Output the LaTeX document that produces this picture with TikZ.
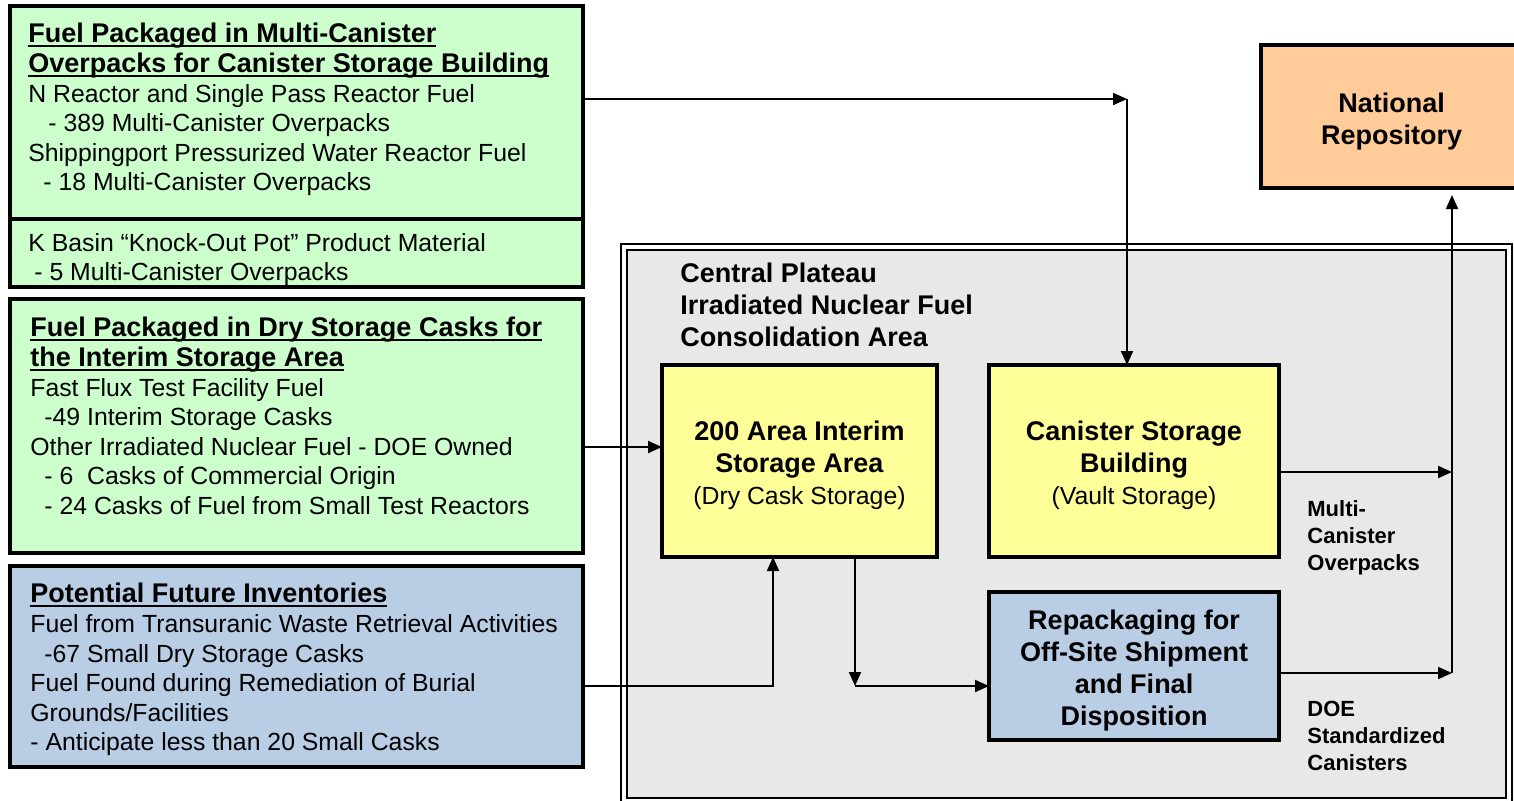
\documentclass[tikz,border=0pt]{standalone}
\usepackage{fontspec}
\setmainfont{Liberation Sans}
\usetikzlibrary{arrows.meta,positioning}

\definecolor{mcogreen}{HTML}{CCFFCC}
\definecolor{vaultyellow}{HTML}{FFFF99}
\definecolor{futureblue}{HTML}{B9CDE5}
\definecolor{repoorange}{HTML}{FFCC99}
\definecolor{plateaugrey}{HTML}{E8E8E8}

\newsavebox{\titlebox}
\newcommand{\boxtitle}[1]{{\fontsize{13.5}{15.5}\selectfont\bfseries
  \sbox{\titlebox}{#1}\rlap{\rule[-2pt]{\wd\titlebox}{0.9pt}}\usebox{\titlebox}}}
% pushes the centred text of a facility box a little down
\newcommand{\topgap}{\rule{0pt}{14.5pt}}

\tikzset{
  inventory/.style={draw=black, line width=1.6pt, fill=mcogreen, anchor=north west,
    minimum width=286.5pt, inner sep=0pt, outer sep=0pt},
  facility/.style={draw=black, line width=2pt, fill=vaultyellow, anchor=north west,
    align=center, inner sep=0pt, outer sep=0pt,
    font=\fontsize{13.5}{16}\selectfont\bfseries},
  listing/.style={anchor=north west, align=left, inner sep=0pt,
    font=\fontsize{12.4}{14.8}\selectfont},
  sidelabel/.style={anchor=north west, align=left, inner sep=0pt,
    font=\fontsize{11}{13.5}\selectfont\bfseries},
  flow/.style={line width=1pt, -{Triangle[length=7pt,width=6pt]}},
}

\begin{document}
\begin{tikzpicture}[x=0.5pt,y=-0.5pt]
\useasboundingbox (0,0) rectangle (1514,800);

% consolidation area
\node[draw, line width=1pt, fill=white, anchor=north west, minimum width=445.5pt,
  minimum height=281pt, inner sep=0pt] (plateauRim) at (620,243) {};
\node[draw, line width=1pt, fill=plateaugrey, anchor=north west, minimum width=439.5pt,
  minimum height=274pt, inner sep=0pt] (plateau) at (626,249) {};
\node[anchor=north west, align=left, inner sep=0pt,
  font=\fontsize{13.5}{16}\selectfont\bfseries] (plateauTitle) at (680,263)
  {Central Plateau\\Irradiated Nuclear Fuel\\Consolidation Area};

% inventories
\node[inventory, minimum height=106.5pt] (mco) at (10,6) {};
\node[inventory, minimum height=34pt] (kbasin) at (10,219) {};
\node[inventory, minimum height=127pt] (dsc) at (10,299) {};
\node[inventory, fill=futureblue, minimum height=100.5pt] (future) at (10,566) {};

\node[listing] (mcoText) at (28,23) {\boxtitle{Fuel Packaged in Multi-Canister}\\
  \boxtitle{Overpacks for Canister Storage Building}\\
  N Reactor and Single Pass Reactor Fuel\\
  \hspace*{10pt}- 389 Multi-Canister Overpacks\\
  Shippingport Pressurized Water Reactor Fuel\\
  \hspace*{7.5pt}- 18 Multi-Canister Overpacks};
\node[listing] (kbasinText) at (28,233) {K Basin “Knock-Out Pot” Product Material\\
  \hspace*{3pt}- 5 Multi-Canister Overpacks};
\node[listing] (dscText) at (30,317) {\boxtitle{Fuel Packaged in Dry Storage Casks for}\\
  \boxtitle{the Interim Storage Area}\\
  Fast Flux Test Facility Fuel\\
  \hspace*{7pt}-49 Interim Storage Casks\\
  Other Irradiated Nuclear Fuel - DOE Owned\\
  \hspace*{7pt}- 6~ Casks of Commercial Origin\\
  \hspace*{7pt}- 24 Casks of Fuel from Small Test Reactors};
\node[listing] (futureText) at (30,583) {\boxtitle{Potential Future Inventories}\\
  Fuel from Transuranic Waste Retrieval Activities\\
  \hspace*{7pt}-67 Small Dry Storage Casks\\
  Fuel Found during Remediation of Burial\\
  Grounds/Facilities\\
  - Anticipate less than 20 Small Casks};

% facilities
\node[facility, minimum width=137.5pt, minimum height=96pt] (isa) at (662,365)
  {\topgap 200 Area Interim\\Storage Area\\{\mdseries\fontsize{12.4}{15.5}\selectfont(Dry Cask Storage)}};
\node[facility, minimum width=145pt, minimum height=96pt] (csb) at (989,365)
  {\topgap Canister Storage\\Building\\{\mdseries\fontsize{12.4}{15.5}\selectfont(Vault Storage)}};
\node[facility, fill=futureblue, minimum width=145pt, minimum height=74pt] (rep) at (989,592)
  {\topgap Repackaging for\\Off-Site Shipment\\and Final\\Disposition};
\node[facility, fill=repoorange, minimum width=130.5pt, minimum height=71.5pt] (nr) at (1261,45)
  {\topgap National\\Repository};

\node[sidelabel] (mcoLabel) at (1307,500) {Multi-\\Canister\\Overpacks};
\node[sidelabel] (doeLabel) at (1307,701) {DOE\\Standardized\\Canisters};

% connectors
\coordinate (mcoBend) at (1127,99);
\coordinate (dscLevel) at (0,447);
\coordinate (futureBend) at (773,686);
\coordinate (repBend) at (855,686);
\coordinate (riserHigh) at (1452,472);
\coordinate (riserLow) at (1452,673);

\draw[flow] (mco.east |- mcoBend) -- (mcoBend);
\draw[flow] (mcoBend) -- (mcoBend |- csb.north);
\draw[flow] (dsc.east |- dscLevel) -- (isa.west |- dscLevel);
\draw[flow] (future.east |- futureBend) -- (futureBend) -- (futureBend |- isa.south);
\draw[flow] (repBend |- isa.south) -- (repBend);
\draw[flow] (repBend) -- (repBend -| rep.west);
\draw[flow] (csb.east |- riserHigh) -- (riserHigh);
\draw[flow] (rep.east |- riserLow) -- (riserLow);
\draw[flow, shorten >=3.5pt] (riserLow) -- (riserLow |- nr.south);
\end{tikzpicture}
\end{document}
